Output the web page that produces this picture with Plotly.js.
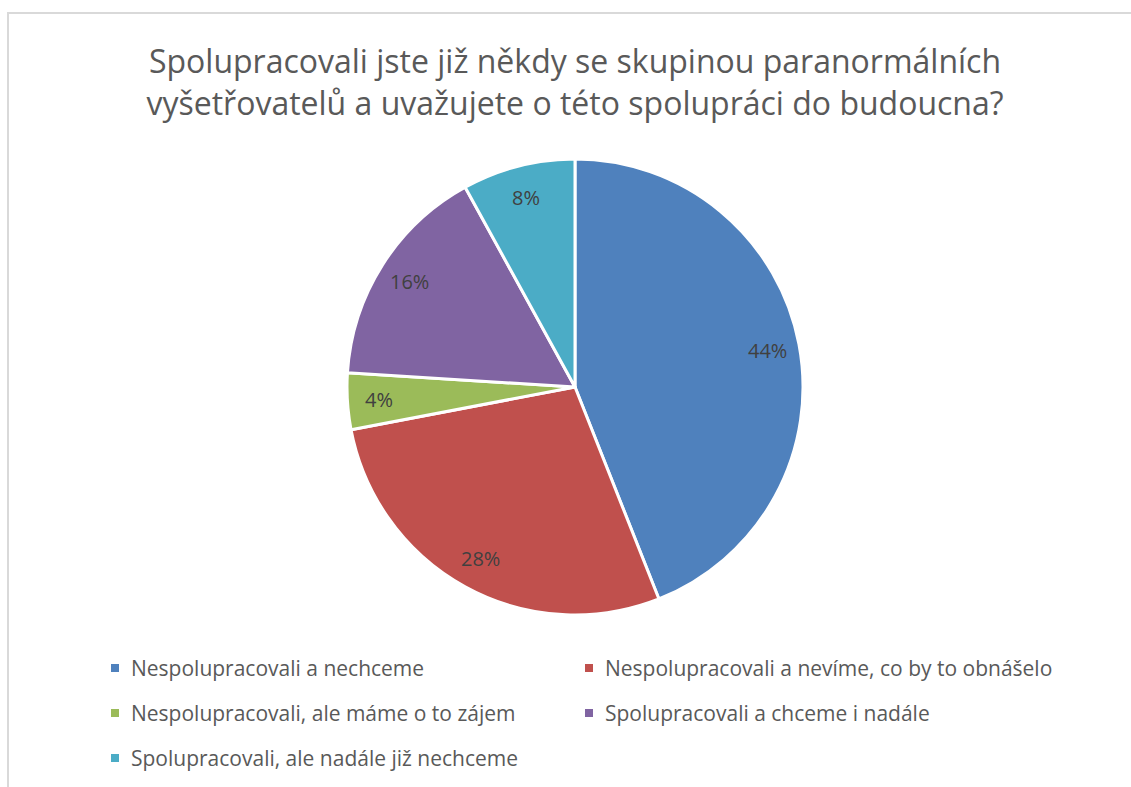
<!DOCTYPE html>
<html>
<head>
<meta charset="utf-8">
<script src="https://cdn.plot.ly/plotly-3.0.1.min.js"></script>
<style>
html,body{margin:0;padding:0;overflow:hidden;background:#fff;}
#chart{width:1131px;height:787px;}
#frame{position:absolute;left:7px;top:12px;width:1200px;height:900px;border-top:2px solid #d9d9d9;border-left:2px solid #d9d9d9;pointer-events:none;}
</style>
</head>
<body>
<div id="chart"></div>
<div id="frame"></div>
<script>
// ---- data ----
const titleLines = ["Spolupracovali jste již někdy se skupinou paranormálních", "vyšetřovatelů a uvažujete o této spolupráci do budoucna?"];
const categories = [
  "Nespolupracovali a nechceme",
  "Nespolupracovali a nevíme, co by to obnášelo",
  "Nespolupracovali, ale máme o to zájem",
  "Spolupracovali a chceme i nadále",
  "Spolupracovali, ale nadále již nechceme"
];
const values = [44, 28, 4, 16, 8];
const colors = ["#4F81BD", "#C0504D", "#9BBB59", "#8064A2", "#4BACC6"];

// ---- layout helpers ----
const W = 1131, H = 787;
const px = x => x / W;
const py = y => 1 - y / H;
const cx = 575, cy = 387, R = 228;
const FONT = "'Open Sans', Lato, sans-serif";
const TXT = "#595959";

const annotations = [];
const shapes = [];

// percent labels computed from data
const total = values.reduce((a, b) => a + b, 0);
let cum = 0;
values.forEach((v, i) => {
  const mid = (cum + v / 2) / total * 2 * Math.PI;
  cum += v;
  const rr = R * 0.86;
  annotations.push({
    xref: "paper", yref: "paper",
    x: px(cx + rr * Math.sin(mid)), y: py(cy - rr * Math.cos(mid)),
    text: Math.round(v / total * 100) + "%",
    showarrow: false, xanchor: "center", yanchor: "middle",
    font: {family: FONT, size: 20, color: "#404040"}
  });
});

// legend built from categories/colors
categories.forEach((c, i) => {
  const col = i % 2, row = Math.floor(i / 2);
  const tx = 129 + col * 474;
  const ty = 668 + row * 45;
  shapes.push({
    type: "rect", xref: "paper", yref: "paper",
    x0: px(tx - 18), x1: px(tx - 10), y0: py(ty + 4), y1: py(ty - 4),
    fillcolor: colors[i], line: {width: 0}
  });
  annotations.push({
    xref: "paper", yref: "paper", x: px(tx), y: py(ty),
    text: c, showarrow: false, xanchor: "left", yanchor: "middle",
    font: {family: FONT, size: 21, color: TXT}
  });
});

const trace = {
  type: "pie",
  values: values,
  labels: categories,
  sort: false,
  direction: "clockwise",
  rotation: 0,
  marker: {colors: colors, line: {color: "#ffffff", width: 3}},
  textinfo: "none",
  hoverinfo: "label+percent",
  domain: {x: [px(cx - R), px(cx + R)], y: [py(cy + R), py(cy - R)]}
};

const layout = {
  width: W, height: H,
  margin: {l: 0, r: 0, t: 0, b: 0},
  paper_bgcolor: "#ffffff",
  showlegend: false,
  title: {
    text: titleLines.join("<br>"),
    x: px(575), xanchor: "center",
    y: py(73), yanchor: "middle", yref: "container",
    font: {family: FONT, size: 32, color: TXT}
  },
  annotations: annotations,
  shapes: shapes
};

Plotly.newPlot("chart", [trace], layout, {displayModeBar: false, staticPlot: true});
</script>
</body>
</html>
